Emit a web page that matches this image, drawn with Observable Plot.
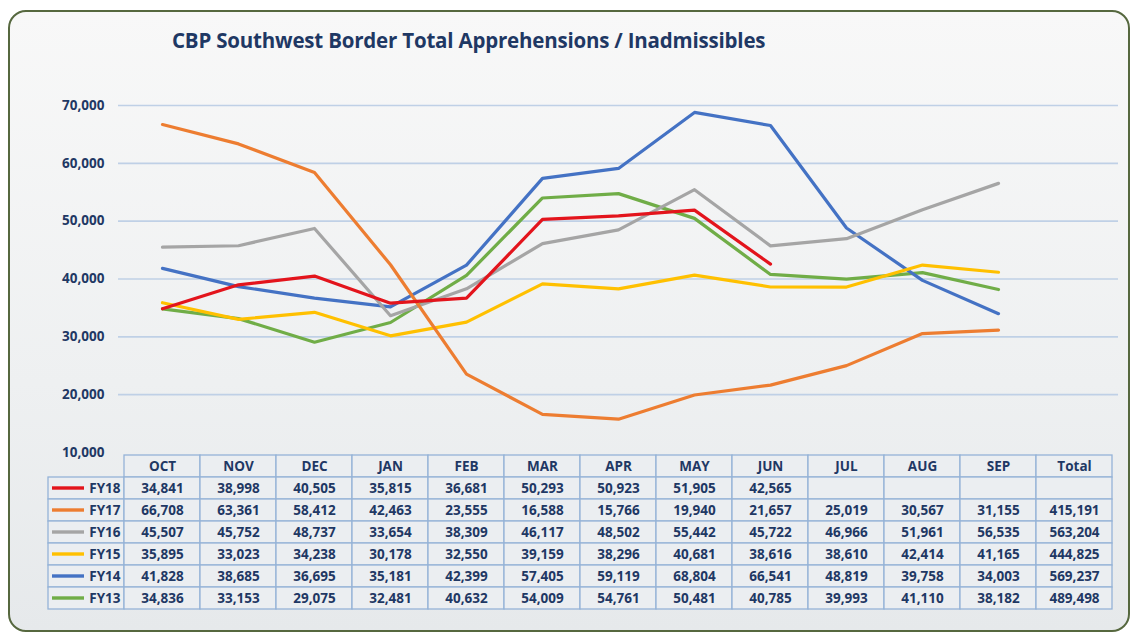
<!DOCTYPE html>
<html><head><meta charset="utf-8">
<script src="https://cdn.jsdelivr.net/npm/d3@7"></script>
<script src="https://cdn.jsdelivr.net/npm/@observablehq/plot@0.6"></script>
<style>
html,body{margin:0;padding:0;background:#fff;}
#page{position:relative;width:1130px;height:637px;overflow:hidden;font-family:"Open Sans",sans-serif;}
#frame{position:absolute;left:8px;top:10px;width:1122px;height:622px;border:2px solid #56683f;border-radius:18px;background:linear-gradient(#f8f8f8,#eef0f1 60%,#e6e9eb);box-sizing:border-box;}
#title{position:absolute;left:172px;top:26px;font-size:20.5px;font-weight:700;color:#1f3864;white-space:nowrap;letter-spacing:-0.2px;}
#chart,#table{position:absolute;left:0;}
#chart{top:0px;}
#table{top:452px;}
</style></head><body>
<div id="page"><div id="frame"></div><div id="title">CBP Southwest Border Total Apprehensions / Inadmissibles</div><div id="table"></div><div id="chart"></div></div>
<script>
const months = ["OCT","NOV","DEC","JAN","FEB","MAR","APR","MAY","JUN","JUL","AUG","SEP"];
const totalLabel = "Total";
const names = ["FY18","FY17","FY16","FY15","FY14","FY13"];
const colors = ["#e3141c","#ed7d31","#a5a5a5","#ffc000","#4472c4","#70ad47"];
const fy18 = [34841,38998,40505,35815,36681,50293,50923,51905,42565];
const fy17 = [66708,63361,58412,42463,23555,16588,15766,19940,21657,25019,30567,31155];
const fy16 = [45507,45752,48737,33654,38309,46117,48502,55442,45722,46966,51961,56535];
const fy15 = [35895,33023,34238,30178,32550,39159,38296,40681,38616,38610,42414,41165];
const fy14 = [41828,38685,36695,35181,42399,57405,59119,68804,66541,48819,39758,34003];
const fy13 = [34836,33153,29075,32481,40632,54009,54761,50481,40785,39993,41110,38182];
const totals = [null,415191,563204,444825,569237,489498];
const yTicks = [10000,20000,30000,40000,50000,60000,70000];

const seriesValues = [fy18,fy17,fy16,fy15,fy14,fy13];
const fmt = d3.format(",");

// chart data, drawn FY13 first so FY18 sits on top
const chartData = [];
for (let k = names.length - 1; k >= 0; k--) {
  seriesValues[k].forEach((v,i) => chartData.push({series:names[k], month:months[i], value:v}));
}

const chart = Plot.plot({
  width:1130, height:465,
  marginLeft:118, marginRight:12, marginTop:105, marginBottom:13,
  style:{background:"transparent", fontFamily:"Open Sans", fontSize:"13.5px", fontWeight:"bold", color:"#1f3864", overflow:"visible"},
  x:{type:"point", domain:[...months, totalLabel], padding:0.5, axis:null},
  y:{domain:[10000,70000], axis:null},
  color:{domain:names, range:colors},
  marks:[
    Plot.ruleY(yTicks.filter(d => d > 10000), {stroke:"#bfd0e6", strokeWidth:1.6}),
    Plot.line(chartData, {x:"month", y:"value", z:"series", stroke:"series", strokeWidth:3.2, strokeLinejoin:"round"}),
    Plot.axisY({ticks:yTicks, tickFormat:fmt, tickSize:0, tickPadding:14, label:null})
  ]
});
document.getElementById("chart").appendChild(chart);

// table
const cols = ["", ...months, totalLabel];
const rows = ["hdr", ...names];
const cellData = [];
const textData = [];
[...months, totalLabel].forEach(c => { cellData.push({col:c, row:"hdr"}); textData.push({col:c, row:"hdr", text:c}); });
names.forEach((n,k) => {
  cellData.push({col:"", row:n});
  months.forEach((m,i) => {
    cellData.push({col:m, row:n});
    const v = seriesValues[k][i];
    if (v != null) textData.push({col:m, row:n, text:fmt(v)});
  });
  cellData.push({col:totalLabel, row:n});
  if (totals[k] != null) textData.push({col:totalLabel, row:n, text:fmt(totals[k])});
});
const swatches = names.map(n => ({col:"", row:n, series:n}));

const table = Plot.plot({
  width:1130, height:160,
  marginLeft:41, marginRight:12, marginTop:0.5, marginBottom:1.5,
  style:{background:"transparent", fontFamily:"Open Sans", fontSize:"13.5px", fontWeight:"bold", color:"#1f3864"},
  x:{type:"band", domain:cols, padding:0, axis:null},
  y:{type:"band", domain:rows, padding:0, axis:null},
  color:{domain:names, range:colors},
  marks:[
    Plot.cell(cellData, {x:"col", y:"row", fill:"#ebeef1", stroke:"#95b3d7", strokeWidth:1.3}),
    Plot.cell(swatches, {x:"col", y:"row", fill:"series", insetLeft:4, insetRight:40, insetTop:9.3, insetBottom:9.3}),
    Plot.text(textData, {x:"col", y:"row", text:"text", fill:"#1f3864"}),
    Plot.text(swatches, {x:"col", y:"row", text:"series", textAnchor:"end", dx:34, fill:"#1f3864"})
  ]
});
document.getElementById("table").appendChild(table);
</script>
</body></html>
